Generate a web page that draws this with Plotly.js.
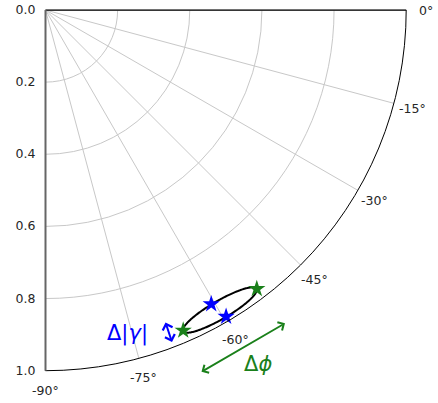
<!DOCTYPE html>
<html>
<head>
<meta charset="utf-8">
<script src="https://cdn.plot.ly/plotly-3.0.1.min.js"></script>
<style>html,body{margin:0;padding:0;background:#fff;} #chart{width:438px;height:403px;}</style>
</head>
<body>
<div id="chart"></div>
<script>
// ---- data ----
const angularTickVals = [-90, -75, -60, -45, -30, -15, 0];
const angularTickText = ['-90°', '-75°', '-60°', '-45°', '-30°', '-15°', '0°'];
const radialTickVals = [0.0, 0.2, 0.4, 0.6, 0.8, 1.0];
const radialTickText = ['0.0', '0.2', '0.4', '0.6', '0.8', '1.0'];

// uncertainty ellipse parameters (|gamma|, phi in degrees)
const ellipseCenterR = 0.962;
const ellipseCenterTheta = -59.84;
const ellipseSemiTangential = 0.1177;
const ellipseSemiRadial = 0.0253;

const blueStarsR = [0.936, 0.9865];
const blueStarsTheta = [-60.6, -59.5];
const greenStarsR = [0.967, 0.970];
const greenStarsTheta = [-66.75, -52.85];

// ---- ellipse outline (Cartesian ellipse converted to polar) ----
const d2r = Math.PI / 180;
const ellR = [], ellT = [];
{
  const tc = ellipseCenterTheta * d2r;
  const cx = ellipseCenterR * Math.cos(tc), cy = ellipseCenterR * Math.sin(tc);
  const ux = -Math.sin(tc), uy = Math.cos(tc);
  const vx = Math.cos(tc), vy = Math.sin(tc);
  for (let i = 0; i <= 200; i++) {
    const t = 2 * Math.PI * i / 200;
    const px = cx + ellipseSemiTangential * Math.cos(t) * ux + ellipseSemiRadial * Math.sin(t) * vx;
    const py = cy + ellipseSemiTangential * Math.cos(t) * uy + ellipseSemiRadial * Math.sin(t) * vy;
    ellR.push(Math.hypot(px, py));
    ellT.push(Math.atan2(py, px) / d2r);
  }
}

const traces = [
  { type: 'scatterpolar', mode: 'lines', r: [0, 1], theta: [0, 0],
    line: { color: '#444', width: 1.5 }, hoverinfo: 'skip', showlegend: false },
  { type: 'scatterpolar', mode: 'lines', r: ellR, theta: ellT,
    line: { color: 'black', width: 2 }, hoverinfo: 'skip', showlegend: false },
  { type: 'scatterpolar', mode: 'markers', r: blueStarsR, theta: blueStarsTheta,
    marker: { symbol: 'star', size: 13, color: '#0000ff' }, showlegend: false },
  { type: 'scatterpolar', mode: 'markers', r: greenStarsR, theta: greenStarsTheta,
    marker: { symbol: 'star', size: 13, color: '#1a801a' }, showlegend: false }
];

const W = 438, H = 403;
const px = x => x / W, py = y => 1 - y / H;

// polar frame geometry (pixels): origin at top-left corner of the quarter sector
const originX = 45, originY = 10, outerR = 361.7;
const labelRadius = 1.053;

const angularLabels = angularTickVals.map((th, i) => ({
  xref: 'paper', yref: 'paper',
  x: px(originX + labelRadius * outerR * Math.cos(th * d2r)),
  y: py(originY - labelRadius * outerR * Math.sin(th * d2r)),
  xanchor: 'center', yanchor: 'middle', showarrow: false,
  text: angularTickText[i],
  font: { family: 'DejaVu Sans', size: 12.5, color: '#262626' }
}));

const layout = {
  width: W, height: H,
  margin: { l: 0, r: 0, t: 0, b: 0 },
  paper_bgcolor: 'white',
  font: { family: 'DejaVu Sans', size: 12.5, color: '#262626' },
  showlegend: false,
  polar: {
    domain: { x: [px(originX), px(originX + outerR)], y: [py(originY + outerR - 1), py(originY)] },
    sector: [-90, 0],
    bgcolor: 'white',
    angularaxis: {
      direction: 'counterclockwise', rotation: 0, thetaunit: 'degrees',
      tickmode: 'array', tickvals: angularTickVals, ticktext: angularTickText,
      ticks: '', showticklabels: false,
      showline: true, linecolor: 'black', linewidth: 1,
      gridcolor: '#c8c8c8', gridwidth: 1
    },
    radialaxis: {
      range: [0, 1], angle: -90, side: 'clockwise',
      tickmode: 'array', tickvals: radialTickVals, ticktext: radialTickText,
      ticks: 'outside', ticklen: 4, tickcolor: 'rgba(0,0,0,0)',
      showline: true, linecolor: '#666', linewidth: 2,
      gridcolor: '#c8c8c8', gridwidth: 1, tickangle: -90,
      tickfont: { family: 'DejaVu Sans', size: 12.5, color: '#262626' }
    }
  },
  annotations: angularLabels.concat([
    { xref: 'paper', yref: 'paper', x: px(172), y: py(342), ax: -7, ay: -21,
      text: '', showarrow: true, arrowside: 'end+start', arrowhead: 4, arrowsize: 1,
      arrowwidth: 2, arrowcolor: '#0000ff' },
    { xref: 'paper', yref: 'paper', x: px(285), y: py(323.3), ax: -85, ay: 49.4,
      text: '', showarrow: true, arrowside: 'end+start', arrowhead: 4, arrowsize: 1,
      arrowwidth: 1.8, arrowcolor: '#1a801a' },
    { xref: 'paper', yref: 'paper', x: px(127), y: py(333), xanchor: 'center', yanchor: 'middle',
      text: 'Δ|<i>γ</i>|', showarrow: false,
      font: { family: 'DejaVu Sans', size: 21, color: '#0000ff' } },
    { xref: 'paper', yref: 'paper', x: px(258), y: py(364), xanchor: 'center', yanchor: 'middle',
      text: 'Δ<i>ϕ</i>', showarrow: false,
      font: { family: 'DejaVu Sans', size: 21, color: '#1a801a' } }
  ])
};

Plotly.newPlot('chart', traces, layout, { displayModeBar: false, staticPlot: true });
</script>
</body>
</html>
